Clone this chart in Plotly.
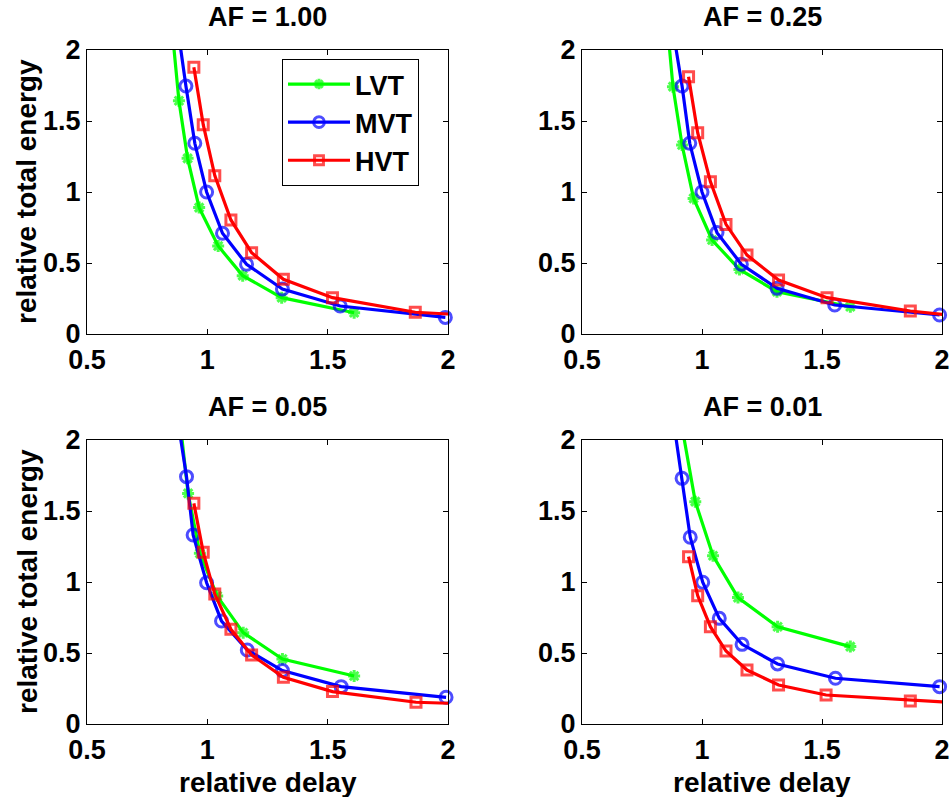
import plotly.graph_objects as go

# ---------------- data ----------------
titles = ["AF = 1.00", "AF = 0.25", "AF = 0.05", "AF = 0.01"]
series_names = ["LVT", "MVT", "HVT"]

x_ticks = [0.5, 1, 1.5, 2]
x_tick_labels = ["0.5", "1", "1.5", "2"]
y_ticks = [0, 0.5, 1, 1.5, 2]
y_tick_labels = ["0", "0.5", "1", "1.5", "2"]

# AF = 1.00
lvt_delay_af100 = [0.85, 0.882, 0.918, 0.966, 1.045, 1.147, 1.309, 1.610]
lvt_energy_af100 = [2.21, 1.643, 1.237, 0.890, 0.620, 0.411, 0.256, 0.150]
mvt_delay_af100 = [0.88, 0.911, 0.948, 0.997, 1.063, 1.163, 1.312, 1.552, 1.989]
mvt_energy_af100 = [2.12, 1.746, 1.343, 1.000, 0.709, 0.491, 0.317, 0.197, 0.117]
hvt_delay_af100 = [0.944, 0.983, 1.031, 1.098, 1.184, 1.316, 1.520, 1.864, 2.46]
hvt_energy_af100 = [1.878, 1.474, 1.115, 0.803, 0.573, 0.385, 0.256, 0.153, 0.100]

# AF = 0.25
lvt_delay_af025 = [0.85, 0.879, 0.917, 0.965, 1.042, 1.156, 1.3125, 1.618]
lvt_energy_af025 = [2.28, 1.742, 1.331, 0.955, 0.662, 0.455, 0.298, 0.192]
mvt_delay_af025 = [0.88, 0.917, 0.949, 1.000, 1.0625, 1.164, 1.3125, 1.553, 1.990]
mvt_energy_af025 = [2.13, 1.746, 1.343, 1.000, 0.714, 0.491, 0.322, 0.204, 0.134]
hvt_delay_af025 = [0.944, 0.982, 1.035, 1.100, 1.1875, 1.319, 1.521, 1.868, 2.46]
hvt_energy_af025 = [1.812, 1.418, 1.073, 0.772, 0.556, 0.380, 0.256, 0.162, 0.058]

# AF = 0.05
lvt_delay_af005 = [0.882, 0.920, 0.969, 1.041, 1.149, 1.312, 1.610]
lvt_energy_af005 = [2.20, 1.624, 1.202, 0.901, 0.643, 0.458, 0.338]
mvt_delay_af005 = [0.88, 0.9135, 0.941, 0.997, 1.059, 1.166, 1.312, 1.556, 1.992]
mvt_energy_af005 = [2.11, 1.742, 1.331, 0.995, 0.725, 0.521, 0.376, 0.263, 0.188]
hvt_delay_af005 = [0.944, 0.983, 1.031, 1.098, 1.184, 1.316, 1.520, 1.867, 2.46]
hvt_energy_af005 = [1.554, 1.209, 0.915, 0.667, 0.486, 0.329, 0.228, 0.153, 0.122]

# AF = 0.01
lvt_delay_af001 = [0.882, 0.918, 0.972, 1.046, 1.150, 1.315, 1.618]
lvt_energy_af001 = [2.80, 2.08, 1.566, 1.185, 0.890, 0.685, 0.545]
mvt_delay_af001 = [0.88, 0.917, 0.951, 1.003, 1.072, 1.167, 1.315, 1.556, 1.990]
mvt_energy_af001 = [2.15, 1.730, 1.315, 0.998, 0.744, 0.561, 0.423, 0.322, 0.263]
hvt_delay_af001 = [0.944, 0.982, 1.035, 1.100, 1.1875, 1.319, 1.517, 1.868, 2.46]
hvt_energy_af001 = [1.178, 0.904, 0.685, 0.514, 0.380, 0.275, 0.204, 0.162, 0.109]

panels = [
    [(lvt_delay_af100, lvt_energy_af100), (mvt_delay_af100, mvt_energy_af100), (hvt_delay_af100, hvt_energy_af100)],
    [(lvt_delay_af025, lvt_energy_af025), (mvt_delay_af025, mvt_energy_af025), (hvt_delay_af025, hvt_energy_af025)],
    [(lvt_delay_af005, lvt_energy_af005), (mvt_delay_af005, mvt_energy_af005), (hvt_delay_af005, hvt_energy_af005)],
    [(lvt_delay_af001, lvt_energy_af001), (mvt_delay_af001, mvt_energy_af001), (hvt_delay_af001, hvt_energy_af001)],
]

# ---------------- styling ----------------
W, H = 952, 797
FONT = "Liberation Sans, Arial, Helvetica, sans-serif"
FS = 27
FS_AXIS = 28
colors = ["#00ff00", "#0000ff", "#ff0000"]
symbols = ["asterisk-open", "circle-open", "square-open"]
msizes = [10, 12, 10]
X_RANGE = [0.5, 2]
Y_RANGE = [0, 2]

# plot-area pixel boxes (left, right, top, bottom)
boxes = [(87, 448, 50, 334), (582, 942, 50, 334), (87, 448, 440, 724), (582, 942, 440, 724)]

fig = go.Figure()

for p, series in enumerate(panels):
    ax = "" if p == 0 else str(p + 1)
    for s, (xs, ys) in enumerate(series):
        sizes = [msizes[s] if (X_RANGE[0] <= x <= X_RANGE[1] and Y_RANGE[0] <= y <= Y_RANGE[1]) else 0
                 for x, y in zip(xs, ys)]
        fig.add_trace(go.Scatter(
            x=xs, y=ys, mode="lines+markers", name=series_names[s],
            line=dict(color=colors[s], width=3.2),
            marker=dict(symbol=symbols[s], size=sizes, color=colors[s],
                        line=dict(color=colors[s], width=3)),
            cliponaxis=False,
            showlegend=(p == 0),
            xaxis="x" + ax, yaxis="y" + ax,
        ))

axis_common = dict(
    showline=True, linecolor="black", linewidth=1, mirror="ticks",
    ticks="inside", ticklen=5, tickwidth=1, tickcolor="black",
    showgrid=False, zeroline=False, automargin=False,
    tickfont=dict(family=FONT, size=FS, color="black", weight="bold"),
)

layout = dict(
    template="none",
    width=W, height=H,
    margin=dict(l=0, r=0, t=0, b=0, pad=0),
    paper_bgcolor="white", plot_bgcolor="white",
    font=dict(family=FONT, size=FS, color="black"),
    showlegend=True,
    legend=dict(
        x=282 / W, y=1 - 59 / H, xanchor="left", yanchor="top",
        bordercolor="black", borderwidth=1, bgcolor="white",
        font=dict(family=FONT, size=FS, color="black", weight="bold"),
        itemwidth=62, tracegroupgap=0,
    ),
    annotations=[],
)

for p, (l, r, t, b) in enumerate(boxes):
    ax = "" if p == 0 else str(p + 1)
    layout["xaxis" + ax] = dict(
        axis_common, domain=[l / W, r / W], range=X_RANGE,
        tickvals=x_ticks, ticktext=x_tick_labels, anchor="y" + ax, ticklabelstandoff=2,
    )
    layout["yaxis" + ax] = dict(
        axis_common, domain=[1 - b / H, 1 - t / H], range=Y_RANGE,
        tickvals=y_ticks, ticktext=y_tick_labels, anchor="x" + ax, ticklabelstandoff=0,
    )
    # subplot title
    layout["annotations"].append(dict(
        text=titles[p], xref="paper", yref="paper", x=(l + r) / 2 / W, y=1 - (t - 33) / H,
        xanchor="center", yanchor="middle", showarrow=False,
        font=dict(family=FONT, size=FS, color="black", weight="bold"),
    ))
    if p in (0, 2):
        layout["annotations"].append(dict(
            text="relative total energy", xref="paper", yref="paper",
            x=27 / W, y=1 - (t + b) / 2 / H, textangle=-90,
            xanchor="center", yanchor="middle", showarrow=False,
            font=dict(family=FONT, size=FS_AXIS, color="black", weight="bold"),
        ))
    if p in (2, 3):
        layout["annotations"].append(dict(
            text="relative delay", xref="paper", yref="paper",
            x=(l + r) / 2 / W, y=1 - 782 / H,
            xanchor="center", yanchor="middle", showarrow=False,
            font=dict(family=FONT, size=FS_AXIS, color="black", weight="bold"),
        ))

fig.update_layout(layout)
fig.write_html("out.html")
